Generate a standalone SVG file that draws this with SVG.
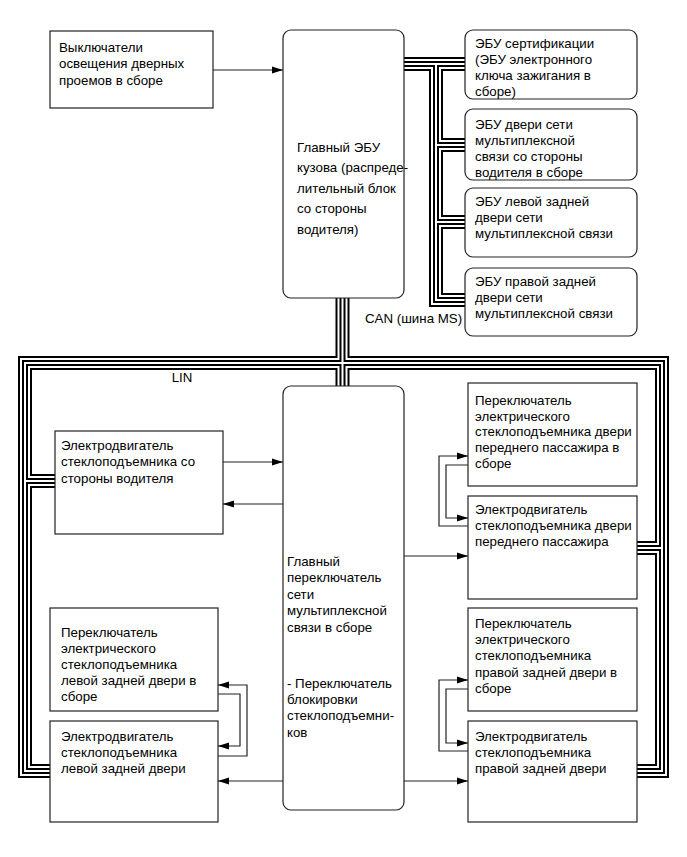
<svg xmlns="http://www.w3.org/2000/svg" xmlns:xlink="http://www.w3.org/1999/xlink" width="687" height="857" viewBox="0 0 687 857">
<style>
text{font-family:"Liberation Sans",Arial,sans-serif;font-size:13.3px;fill:#000}
.box{fill:#fff;stroke:#222;stroke-width:1.2}
.ln{fill:none;stroke:#222;stroke-width:1.2}
.b1{fill:none;stroke:#000;stroke-width:14;stroke-linejoin:miter}
.b2{fill:none;stroke:#fff;stroke-width:10;stroke-linejoin:miter}
.b3{fill:none;stroke:#000;stroke-width:6;stroke-linejoin:miter}
.b4{fill:none;stroke:#fff;stroke-width:2;stroke-linejoin:miter}
</style>
<defs>
<marker id="ah" markerWidth="11" markerHeight="8" refX="11" refY="4" orient="auto" markerUnits="userSpaceOnUse">
<path d="M0,0.5 L11,4 L0,7.5 z" fill="#000"/>
</marker>
<path id="buses" d="M342.5 298 V386 M50 771 H25 V363 H662 V771 H637 M25 481 H55 M662 548 H637 M404 64 H465 M436 64 V300 H465 M436 145 H465 M436 222 H465"/>
</defs>
<rect width="687" height="857" fill="#fff"/>
<g id="connectors">
<use xlink:href="#buses" class="b1"/>
<use xlink:href="#buses" class="b2"/>
<use xlink:href="#buses" class="b3"/>
<use xlink:href="#buses" class="b4"/>
<path class="ln" d="M213 70 H283" marker-end="url(#ah)"/>
<path class="ln" d="M223 462 H283" marker-end="url(#ah)"/>
<path class="ln" d="M283 504 H223" marker-end="url(#ah)"/>
<path class="ln" d="M404 556 H468" marker-end="url(#ah)"/>
<path class="ln" d="M404 781 H468" marker-end="url(#ah)"/>
<path class="ln" d="M283 781 H218" marker-end="url(#ah)"/>
<path class="ln" d="M468 526 H439 V456 H468" marker-end="url(#ah)"/>
<path class="ln" d="M468 465 H446 V518 H468" marker-end="url(#ah)"/>
<path class="ln" d="M468 751 H439 V680 H468" marker-end="url(#ah)"/>
<path class="ln" d="M468 689 H446 V743 H468" marker-end="url(#ah)"/>
<path class="ln" d="M218 756 H247 V685 H218" marker-end="url(#ah)"/>
<path class="ln" d="M218 694 H240 V746 H218" marker-end="url(#ah)"/>
<text x="365" y="322.5">CAN (шина MS)</text>
<text x="182" y="382" text-anchor="middle">LIN</text>
</g>
<g id="sw_lights">
<rect class="box" x="50" y="31" width="163" height="77"/>
<text x="59" y="51.5">Выключатели</text>
<text x="59" y="68">освещения дверных</text>
<text x="59" y="84.5">проемов в сборе</text>
</g>
<g id="main_ecu">
<rect class="box" x="283" y="30" width="121" height="268" rx="8"/>
<text x="297" y="151.5">Главный ЭБУ</text>
<text x="297" y="172">кузова (распреде-</text>
<text x="297" y="192.5">лительный блок</text>
<text x="297" y="213">со стороны</text>
<text x="297" y="233.5">водителя)</text>
</g>
<g id="ecu_cert">
<rect class="box" x="465" y="30" width="172" height="69" rx="8"/>
<text x="475" y="48">ЭБУ сертификации</text>
<text x="475" y="64">(ЭБУ электронного</text>
<text x="475" y="80">ключа зажигания в</text>
<text x="475" y="96">сборе)</text>
</g>
<g id="ecu_door">
<rect class="box" x="465" y="109" width="172" height="71" rx="8"/>
<text x="475" y="128.5">ЭБУ двери сети</text>
<text x="475" y="144.5">мультиплексной</text>
<text x="475" y="160.5">связи со стороны</text>
<text x="475" y="176.5">водителя в сборе</text>
</g>
<g id="ecu_lr">
<rect class="box" x="465" y="188" width="172" height="69" rx="8"/>
<text x="475" y="205.5">ЭБУ левой задней</text>
<text x="475" y="221.5">двери сети</text>
<text x="475" y="237.5">мультиплексной связи</text>
</g>
<g id="ecu_rr">
<rect class="box" x="465" y="268" width="172" height="68" rx="8"/>
<text x="475" y="285.5">ЭБУ правой задней</text>
<text x="475" y="301.5">двери сети</text>
<text x="475" y="317.5">мультиплексной связи</text>
</g>
<g id="motor_drv">
<rect class="box" x="55" y="431" width="168" height="103"/>
<text x="61" y="449.5">Электродвигатель</text>
<text x="61" y="466">стеклоподъемника со</text>
<text x="61" y="482.5">стороны водителя</text>
</g>
<g id="central_sw">
<rect class="box" x="283" y="386" width="121" height="424" rx="8"/>
<text x="287" y="565.5">Главный</text>
<text x="287" y="582">переключатель</text>
<text x="287" y="598.5">сети</text>
<text x="287" y="615">мультиплексной</text>
<text x="287" y="631.5">связи в сборе</text>
<text x="287" y="687.5">- Переключатель</text>
<text x="287" y="703.5">блокировки</text>
<text x="287" y="720">стеклоподъемни-</text>
<text x="287" y="736.5">ков</text>
</g>
<g id="pass_sw">
<rect class="box" x="468" y="383" width="169" height="103"/>
<text x="475" y="404.5">Переключатель</text>
<text x="475" y="420.5">электрического</text>
<text x="475" y="436">стеклоподъемника двери</text>
<text x="475" y="451.5">переднего пассажира в</text>
<text x="475" y="467.5">сборе</text>
</g>
<g id="pass_motor">
<rect class="box" x="468" y="496" width="169" height="103"/>
<text x="475" y="513.5">Электродвигатель</text>
<text x="475" y="529.5">стеклоподъемника двери</text>
<text x="475" y="545.5">переднего пассажира</text>
</g>
<g id="lr_sw">
<rect class="box" x="50" y="608" width="168" height="103"/>
<text x="61" y="637">Переключатель</text>
<text x="61" y="653">электрического</text>
<text x="61" y="669">стеклоподъемника</text>
<text x="61" y="685">левой задней двери в</text>
<text x="61" y="701">сборе</text>
</g>
<g id="lr_motor">
<rect class="box" x="50" y="721" width="168" height="101"/>
<text x="61" y="741">Электродвигатель</text>
<text x="61" y="757">стеклоподъемника</text>
<text x="61" y="773">левой задней двери</text>
</g>
<g id="rr_sw">
<rect class="box" x="468" y="608" width="169" height="103"/>
<text x="475" y="627.5">Переключатель</text>
<text x="475" y="644">электрического</text>
<text x="475" y="660">стеклоподъемника</text>
<text x="475" y="676.5">правой задней двери в</text>
<text x="475" y="692.5">сборе</text>
</g>
<g id="rr_motor">
<rect class="box" x="468" y="721" width="169" height="101"/>
<text x="475" y="741">Электродвигатель</text>
<text x="475" y="757">стеклоподъемника</text>
<text x="475" y="773">правой задней двери</text>
</g>
</svg>
